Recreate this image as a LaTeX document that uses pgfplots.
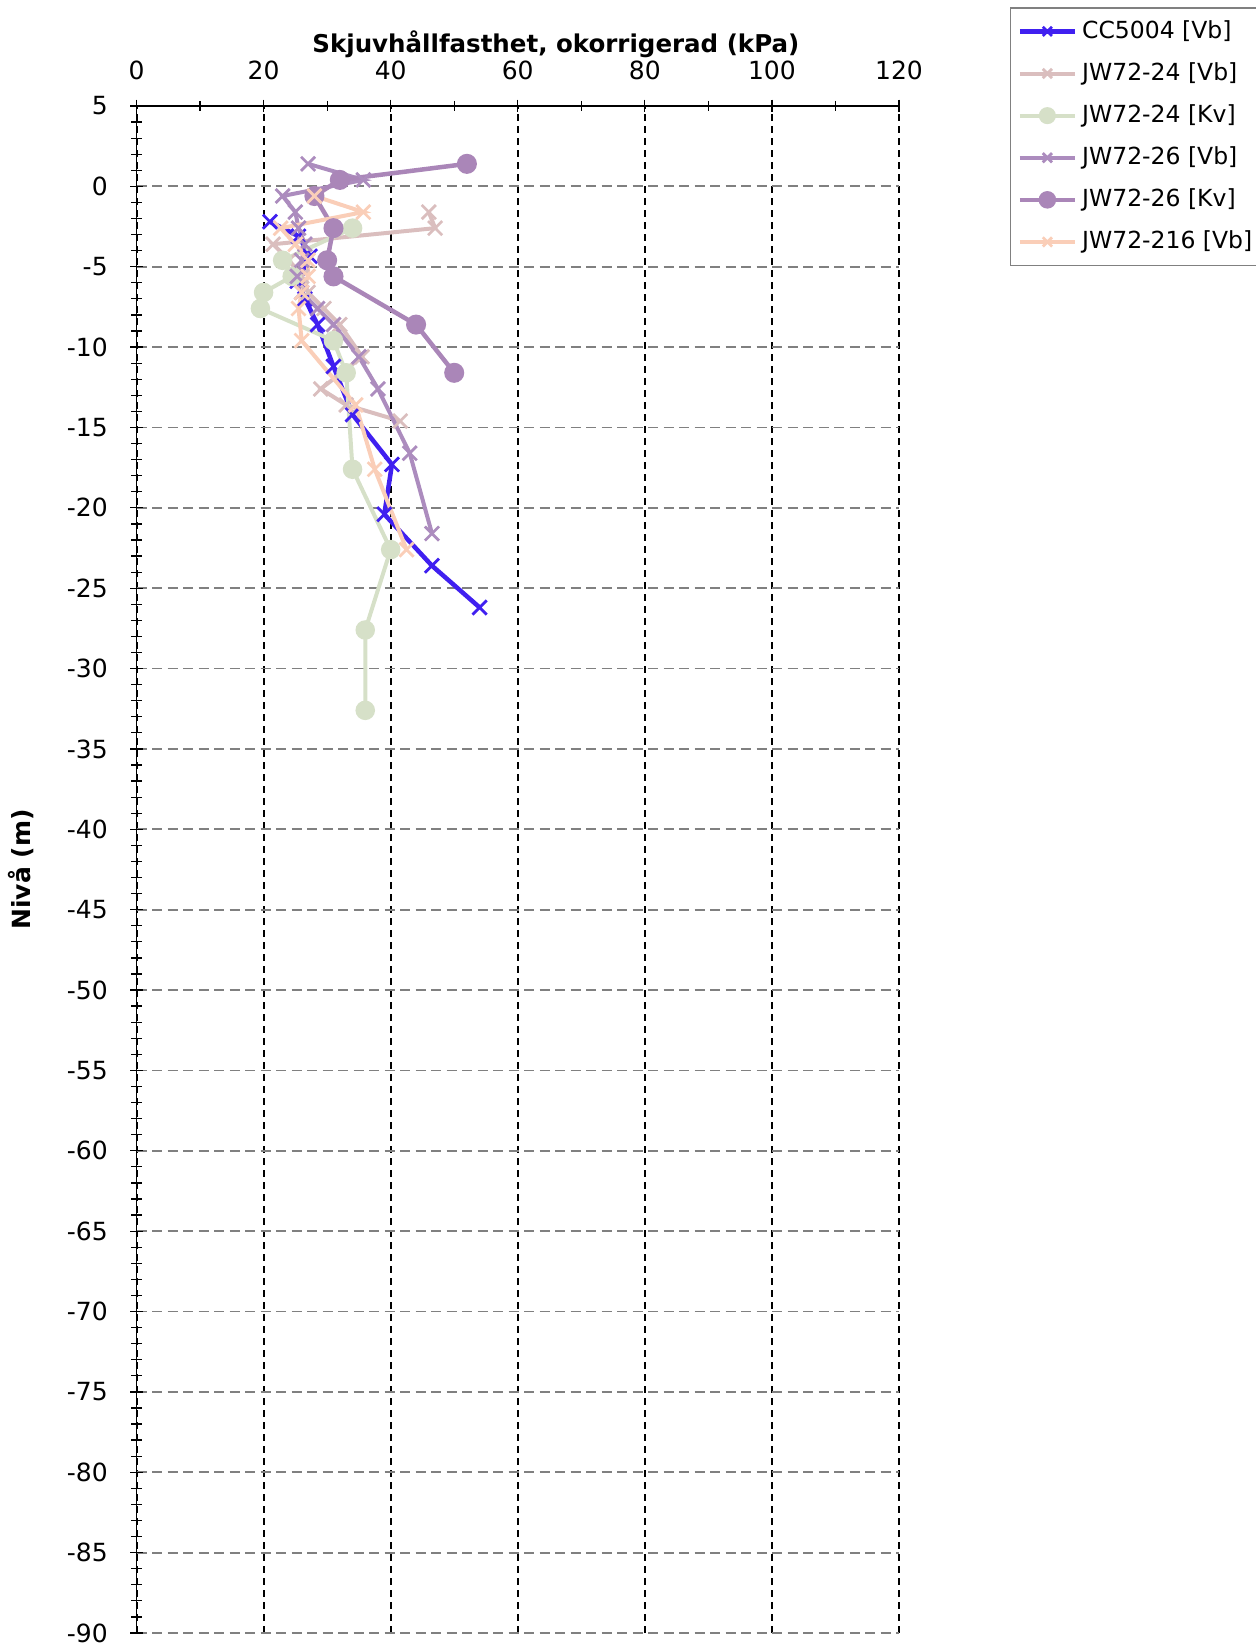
\documentclass[border=0pt]{standalone}
\usepackage{fontspec}
\setmainfont{DejaVu Sans}
\usepackage{pgfplots}
\pgfplotsset{compat=1.18}
\definecolor{cblue}{RGB}{64,32,240}
\definecolor{cpink}{RGB}{218,190,190}
\definecolor{cgreen}{RGB}{214,224,200}
\definecolor{cpurA}{RGB}{172,140,190}
\definecolor{cpurB}{RGB}{170,134,184}
\definecolor{cpeach}{RGB}{250,206,184}
\begin{document}
\begin{tikzpicture}
\begin{axis}[
  scale only axis, width=305pt, height=610.8pt,
  xmin=0, xmax=120, ymin=-90, ymax=5,
  axis x line*=top, axis y line*=left,
  xtick={0,20,...,120}, minor xtick={10,30,...,110},
  ytick={-90,-85,...,5}, minor y tick num=4,
  tick align=center, major tick length=5pt, minor tick length=4pt,
  tick style={black, line width=0.5pt},
  axis line style={black, line width=0.7pt},
  xmajorgrids, ymajorgrids,
  x grid style={black, dash pattern=on 2.8pt off 2pt, line width=0.8pt},
  y grid style={gray, dash pattern=on 4pt off 2.2pt, line width=0.7pt},
  /pgf/number format/assume math mode=true,
  tick label style={font=\fontsize{10}{12}\selectfont},
  xticklabel style={yshift=4.5pt},
  yticklabel style={xshift=-5.5pt},
  xlabel={Skjuvhållfasthet, okorrigerad (kPa)},
  xlabel style={at={(axis description cs:0.55,1.0406)}, anchor=center, font=\bfseries\fontsize{9.8}{12}\selectfont},
  ylabel={Nivå (m)},
  ylabel style={at={(axis description cs:-0.151,0.5)}, anchor=center, font=\bfseries\fontsize{10}{12}\selectfont},
  legend style={at={(rel axis cs:1,1)}, anchor=north west, xshift=44.2pt, yshift=39.4pt,
    draw=gray, line width=0.5pt, font=\fontsize{9.4}{11}\selectfont, row sep=4.2pt,
    inner xsep=3pt, inner ysep=3pt, legend cell align=left},
  legend image code/.code={\draw[mark repeat=2,mark phase=2,mark size=2.6pt] plot coordinates {(0pt,0pt)(11pt,0pt)(22pt,0pt)};},
  clip=false,
]
\addplot[cblue, line width=1.8pt, mark=x, mark size=4pt, mark options={line width=1.1pt}] coordinates {
(21,-2.2)(25.5,-3.1)(27.3,-4.35)(25.3,-5.9)(26.5,-7.0)(28.5,-8.6)(31,-11.2)(34,-14.2)(40.2,-17.3)(39,-20.4)(46.5,-23.6)(54,-26.2)};
\addlegendentry{CC5004 [Vb]}
\addplot[cpink, line width=1.6pt, mark=x, mark size=4pt, mark options={line width=1.1pt}] coordinates {
(46,-1.6)(47,-2.6)(21.5,-3.6)(24,-4.6)(26,-5.6)(27,-6.6)(29.5,-7.6)(32,-8.6)(35.5,-10.6)(29,-12.6)(33,-13.6)(41.5,-14.6)};
\addlegendentry{JW72-24 [Vb]}
\addplot[cgreen, line width=1.6pt, mark=*, mark size=3.1pt, mark options={fill=cgreen, draw=cgreen}] coordinates {
(34,-2.6)(23,-4.6)(24.5,-5.6)(20,-6.6)(19.5,-7.6)(31,-9.6)(33,-11.6)(34,-17.6)(40,-22.6)(36,-27.6)(36,-32.6)};
\addlegendentry{JW72-24 [Kv]}
\addplot[cpurA, line width=1.6pt, mark=x, mark size=4pt, mark options={line width=1.1pt}] coordinates {
(27,1.4)(35.7,0.4)(23,-0.6)(25,-1.6)(25.5,-2.6)(26.5,-3.6)(26,-4.6)(25.3,-5.6)(26,-6.6)(28.5,-7.6)(31,-8.6)(35,-10.6)(38,-12.6)(43,-16.6)(46.5,-21.6)};
\addlegendentry{JW72-26 [Vb]}
\addplot[cpurB, line width=1.8pt, mark=*, mark size=3.1pt, mark options={fill=cpurB, draw=cpurB}] coordinates {
(52,1.4)(32,0.4)(28,-0.6)(31,-2.6)(30,-4.6)(31,-5.6)(44,-8.6)(50,-11.6)};
\addlegendentry{JW72-26 [Kv]}
\addplot[cpeach, line width=1.6pt, mark=x, mark size=4pt, mark options={line width=1.1pt}] coordinates {
(28,-0.6)(35.7,-1.6)(22.7,-2.6)(25,-3.6)(27,-4.6)(27,-5.6)(26,-6.6)(25.5,-7.6)(26,-9.6)(34.5,-13.6)(37.5,-17.6)(42.5,-22.6)};
\addlegendentry{JW72-216 [Vb]}
\coordinate (O) at (rel axis cs:0,0);
\coordinate (T) at (rel axis cs:1,1);
\end{axis}
\pgfresetboundingbox
\path ([xshift=-54.6pt,yshift=-4.8pt]O) rectangle ([xshift=142.8pt,yshift=42.4pt]T);
\end{tikzpicture}
\end{document}
